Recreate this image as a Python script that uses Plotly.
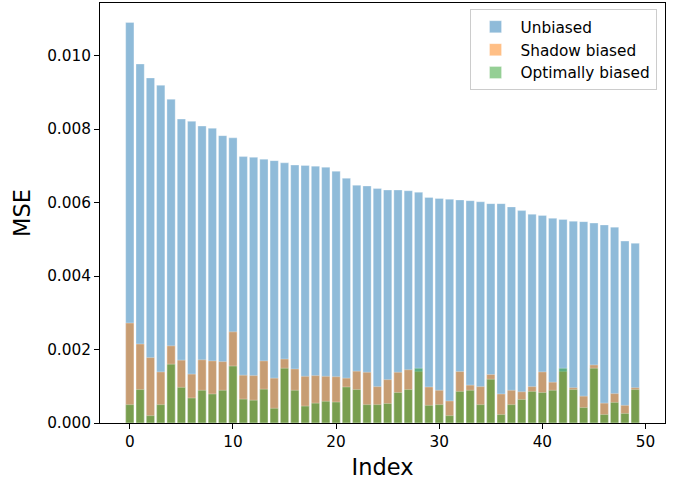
import plotly.graph_objects as go

index = list(range(50))

unbiased = [0.01090, 0.00977, 0.00939, 0.00919, 0.00881, 0.00827, 0.00821, 0.00808, 0.00802, 0.00782,
            0.00776, 0.00725, 0.00723, 0.00718, 0.00714, 0.00708, 0.00702, 0.00701, 0.00699, 0.00696,
            0.00685, 0.00666, 0.00647, 0.00645, 0.00638, 0.00634, 0.00634, 0.00632, 0.00628, 0.00614,
            0.00611, 0.00609, 0.00607, 0.00605, 0.00602, 0.00597, 0.00597, 0.00588, 0.00578, 0.00568,
            0.00565, 0.00557, 0.00554, 0.00549, 0.00548, 0.00544, 0.00539, 0.00533, 0.00495, 0.00489]

shadow = [0.00272, 0.00215, 0.00178, 0.00139, 0.00210, 0.00171, 0.00133, 0.00172, 0.00169, 0.00167,
          0.00248, 0.00130, 0.00129, 0.00169, 0.00122, 0.00174, 0.00147, 0.00127, 0.00129, 0.00127,
          0.00126, 0.00122, 0.00141, 0.00138, 0.00099, 0.00118, 0.00138, 0.00145, 0.00140, 0.00098,
          0.00089, 0.00060, 0.00140, 0.00103, 0.00099, 0.00132, 0.00079, 0.00089, 0.00085, 0.00099,
          0.00139, 0.00111, 0.00140, 0.00096, 0.00073, 0.00158, 0.00054, 0.00080, 0.00048, 0.00096]

optimal = [0.00050, 0.00091, 0.00020, 0.00050, 0.00160, 0.00097, 0.00068, 0.00089, 0.00079, 0.00089,
           0.00155, 0.00065, 0.00062, 0.00092, 0.00040, 0.00149, 0.00089, 0.00046, 0.00054, 0.00059,
           0.00057, 0.00098, 0.00091, 0.00050, 0.00050, 0.00053, 0.00083, 0.00091, 0.00149, 0.00048,
           0.00050, 0.00020, 0.00086, 0.00089, 0.00050, 0.00119, 0.00023, 0.00050, 0.00064, 0.00086,
           0.00083, 0.00089, 0.00149, 0.00091, 0.00042, 0.00149, 0.00023, 0.00056, 0.00026, 0.00091]

series = [("Unbiased", unbiased, "rgba(31,119,180,0.5)"),
          ("Shadow biased", shadow, "rgba(255,127,14,0.5)"),
          ("Optimally biased", optimal, "rgba(44,160,44,0.5)")]

FONT = "DejaVu Sans"
fig = go.Figure()
for name, vals, col in series:
    fig.add_trace(go.Bar(x=index, y=vals, name=name, width=0.8,
                         marker=dict(color=col, line=dict(color="rgba(255,255,255,0.6)", width=0.5))))

fig.update_layout(
    width=677, height=481,
    barmode="overlay",
    plot_bgcolor="white", paper_bgcolor="white",
    margin=dict(l=100, r=12, t=3, b=58),
    font=dict(family=FONT, size=15.3, color="black"),
    legend=dict(x=0.985, y=0.985, xanchor="right", yanchor="top",
                bordercolor="#cccccc", borderwidth=1, bgcolor="rgba(255,255,255,0.8)",
                font=dict(size=15.3), tracegroupgap=0, itemwidth=40),
    showlegend=True,
)
fig.update_xaxes(range=[-2.89, 51.89], tickvals=[0, 10, 20, 30, 40, 50],
                 ticks="outside", ticklen=5, tickwidth=1, tickcolor="black",
                 showline=True, linecolor="black", linewidth=1, mirror=True,
                 showgrid=False, zeroline=False,
                 title=dict(text="Index", font=dict(size=22.5), standoff=8))
fig.update_yaxes(range=[0, 0.01143], tickvals=[0, 0.002, 0.004, 0.006, 0.008, 0.010],
                 tickformat=".3f",
                 ticks="outside", ticklen=5, tickwidth=1, tickcolor="black",
                 showline=True, linecolor="black", linewidth=1, mirror=True,
                 showgrid=False, zeroline=False,
                 title=dict(text="MSE", font=dict(size=22.5), standoff=10))

fig.write_html("out.html")
